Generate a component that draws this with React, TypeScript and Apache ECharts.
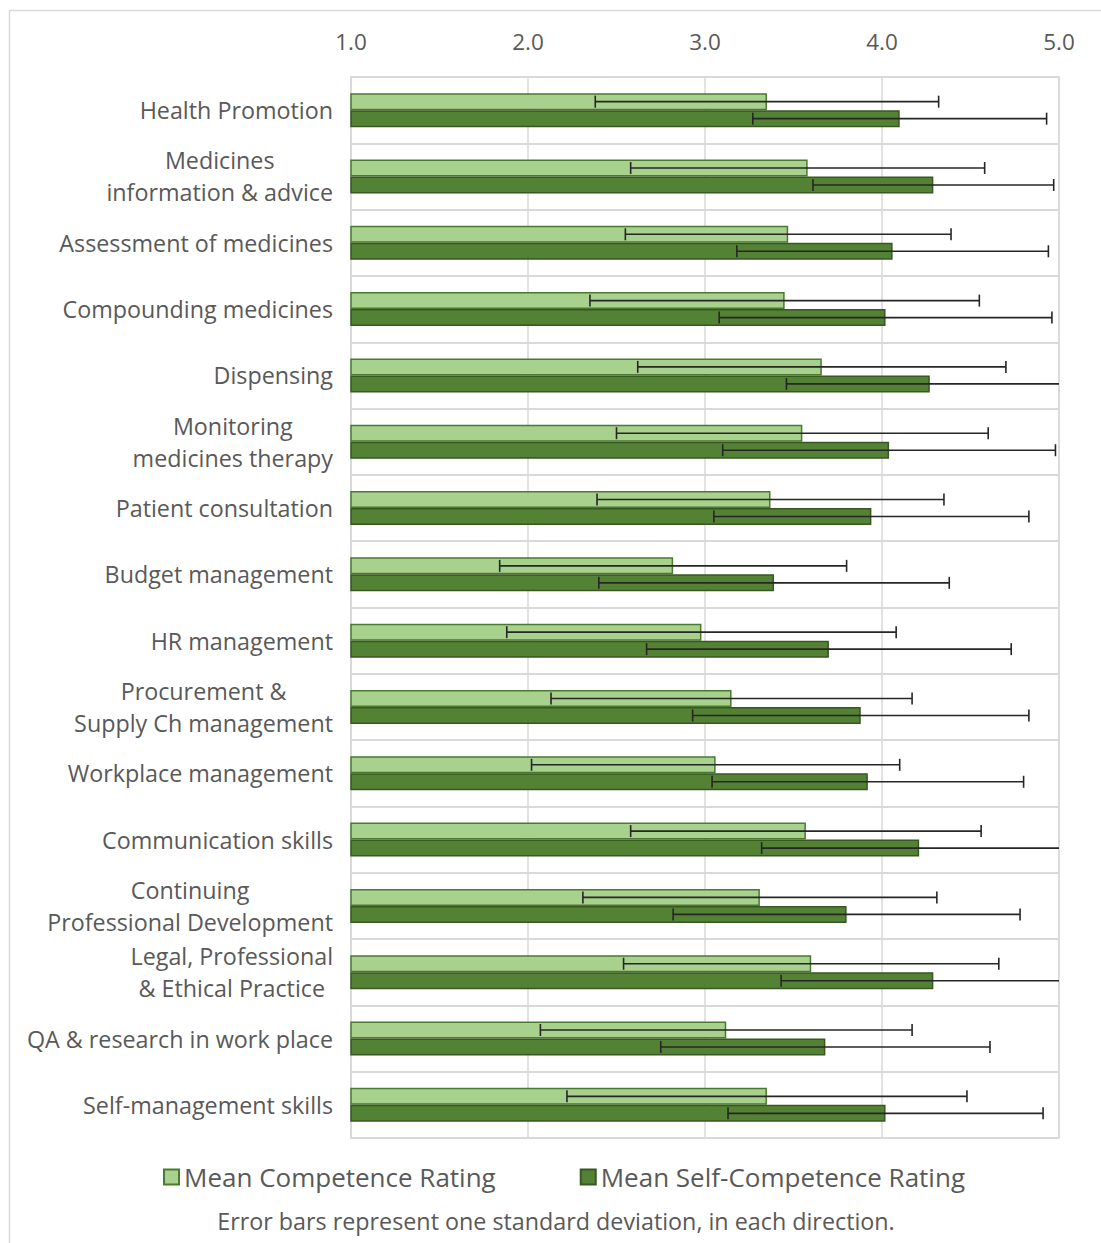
import React, { useEffect, useRef } from "react";
import * as echarts from "echarts";

const categories = [
  "Health Promotion",
  "Medicines\ninformation & advice",
  "Assessment of medicines",
  "Compounding medicines",
  "Dispensing",
  "Monitoring\nmedicines therapy",
  "Patient consultation",
  "Budget management",
  "HR management",
  "Procurement &\nSupply Ch management",
  "Workplace management",
  "Communication skills",
  "Continuing\nProfessional Development",
  "Legal, Professional\n& Ethical Practice",
  "QA & research in work place",
  "Self-management skills",
];

const competence = [3.35, 3.58, 3.47, 3.45, 3.66, 3.55, 3.37, 2.82, 2.98, 3.15, 3.06, 3.57, 3.31, 3.6, 3.12, 3.35];
const competenceSD = [0.97, 1.0, 0.92, 1.1, 1.04, 1.05, 0.98, 0.98, 1.1, 1.02, 1.04, 0.99, 1.0, 1.06, 1.05, 1.13];
const selfCompetence = [4.1, 4.29, 4.06, 4.02, 4.27, 4.04, 3.94, 3.39, 3.7, 3.88, 3.92, 4.21, 3.8, 4.29, 3.68, 4.02];
const selfCompetenceSD = [0.83, 0.68, 0.88, 0.94, 0.81, 0.94, 0.89, 0.99, 1.03, 0.95, 0.88, 0.89, 0.98, 0.86, 0.93, 0.89];

const xTicks = { min: 1, max: 5, interval: 1 };
const seriesNames = ["Mean Competence Rating", "Mean Self-Competence Rating"];
const footnote = "Error bars represent one standard deviation, in each direction.";

const FONT = "'Open Sans', 'Noto Sans', sans-serif";
const TEXT = "#595959";
const GRIDC = "#d9d9d9";
const BAR_W = 17;

function errorSeries(means: number[], sds: number[], offset: number) {
  const data = means.map((m, i) => [m - sds[i], i, m + sds[i]]);
  return {
    type: "custom",
    silent: true,
    z: 5,
    encode: { x: [0, 2], y: 1 },
    data,
    renderItem: (params: any, api: any) => {
      const cs = params.coordSys;
      const lo = api.coord([api.value(0), api.value(1)]);
      const hi = api.coord([api.value(2), api.value(1)]);
      const y = lo[1] + offset;
      const xmin = cs.x;
      const xmax = cs.x + cs.width;
      const x1 = Math.max(lo[0], xmin);
      const x2 = Math.min(hi[0], xmax);
      const cap = 6;
      const st = { stroke: "#262626", lineWidth: 1.6 };
      const children: any[] = [
        { type: "line", shape: { x1, y1: y, x2, y2: y }, style: st },
      ];
      if (lo[0] >= xmin) children.push({ type: "line", shape: { x1: lo[0], y1: y - cap, x2: lo[0], y2: y + cap }, style: st });
      if (hi[0] <= xmax) children.push({ type: "line", shape: { x1: hi[0], y1: y - cap, x2: hi[0], y2: y + cap }, style: st });
      return { type: "group", children };
    },
  };
}

export default function App() {
  const ref = useRef<HTMLDivElement>(null);
  useEffect(() => {
    document.body.style.margin = "0";
    const chart = echarts.init(ref.current!, null, { renderer: "svg" });
    chart.setOption({
      animation: false,
      backgroundColor: "#ffffff",
      textStyle: { fontFamily: FONT },
      grid: { left: 351, right: 42, top: 77, bottom: 105, show: true, borderColor: GRIDC, borderWidth: 1.5 },
      legend: {
        left: 158,
        top: 1159,
        itemWidth: 15,
        itemHeight: 15,
        itemGap: 84,
        icon: "rect",
        textStyle: { fontFamily: FONT, fontSize: 26, color: TEXT },
        data: seriesNames,
      },
      xAxis: {
        type: "value",
        position: "top",
        min: xTicks.min,
        max: xTicks.max,
        interval: xTicks.interval,
        axisLine: { show: false },
        axisTick: { show: false },
        axisLabel: { formatter: (v: number) => v.toFixed(1), fontSize: 22.5, color: TEXT, fontFamily: FONT, margin: 24 },
        splitLine: { show: true, lineStyle: { color: GRIDC, width: 1.5 } },
      },
      yAxis: {
        type: "category",
        inverse: true,
        data: categories,
        axisLine: { show: true, lineStyle: { color: GRIDC, width: 1.5 } },
        axisTick: { show: false },
        splitLine: { show: true, lineStyle: { color: GRIDC, width: 2 } },
        axisLabel: {
          margin: 18,
          formatter: (v: string) => v.split("\n").map((l) => `{c|${l}}`).join("\n"),
          rich: { c: { align: "center", fontSize: 23.3, fontFamily: FONT, color: TEXT, lineHeight: 32 } },
        },
      },
      series: [
        {
          name: seriesNames[0],
          type: "bar",
          barWidth: BAR_W,
          barGap: "0%",
          data: competence,
          itemStyle: { color: "#a9d18e", borderColor: "#4a7a30", borderWidth: 1.5 },
        },
        {
          name: seriesNames[1],
          type: "bar",
          barWidth: BAR_W,
          barGap: "0%",
          data: selfCompetence,
          itemStyle: { color: "#548235", borderColor: "#385723", borderWidth: 1.5 },
        },
        errorSeries(competence, competenceSD, -BAR_W / 2),
        errorSeries(selfCompetence, selfCompetenceSD, BAR_W / 2),
      ],
      graphic: [
        {
          type: "rect",
          z: -10,
          shape: { x: 9.5, y: 10.5, width: 2000, height: 2000 },
          style: { fill: "none", stroke: GRIDC, lineWidth: 1.5 },
          silent: true,
        },
        {
          type: "text",
          x: 556,
          y: 1221,
          style: { text: footnote, fontFamily: FONT, fontSize: 23.3, fill: TEXT, textAlign: "center", textVerticalAlign: "middle" },
        },
      ],
    });
    return () => chart.dispose();
  }, []);
  return <div ref={ref} style={{ width: 1101, height: 1243 }} />;
}
